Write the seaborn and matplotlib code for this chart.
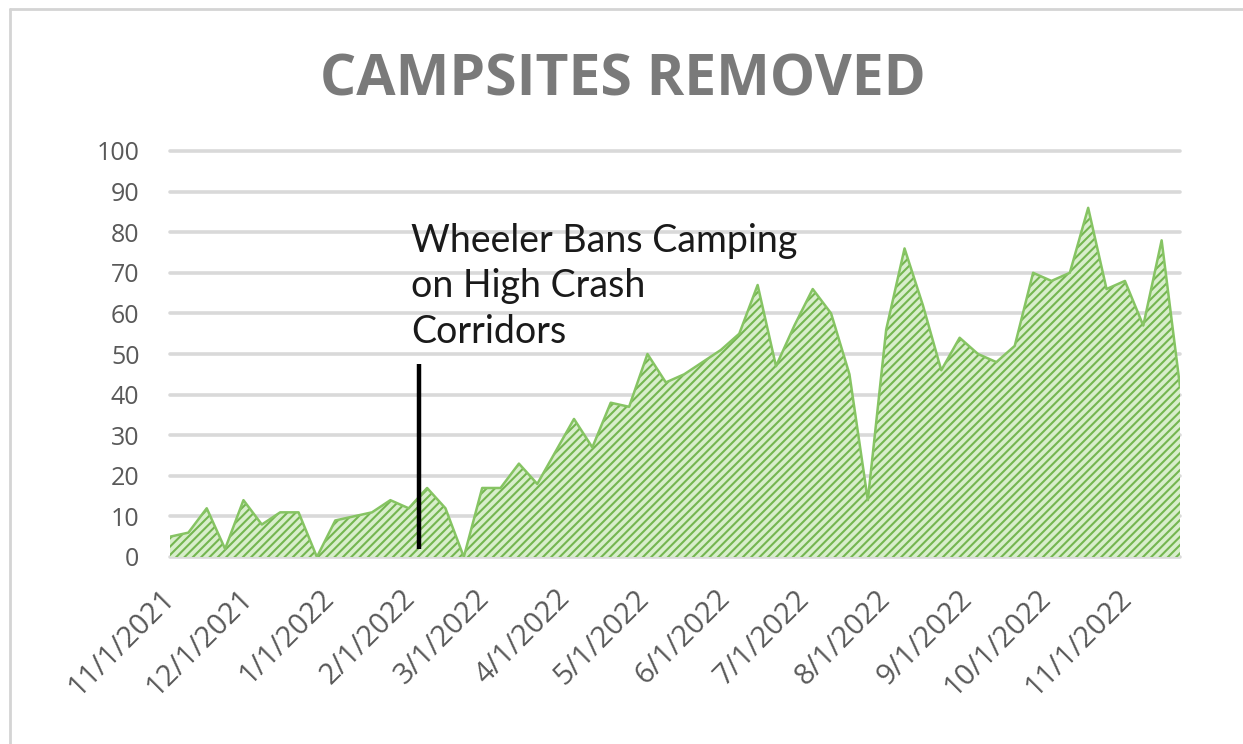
import pandas as pd
import numpy as np
import matplotlib.pyplot as plt
import matplotlib.dates as mdates
import seaborn as sns

# weekly counts
weeks = pd.date_range('2021-11-01', periods=56, freq='7D')
removed = [5, 6, 12, 2, 14, 8, 11, 11, 0, 9,
           10, 11, 14, 12, 17, 12, 0, 17, 17, 23,
           18, 26, 34, 27, 38, 37, 50, 43, 45, 48,
           51, 55, 67, 47, 57, 66, 60, 45, 14, 56,
           76, 62, 46, 54, 50, 48, 52, 70, 68, 70,
           86, 66, 68, 57, 78, 42]

tick_dates = ['2021-11-01', '2021-12-01', '2022-01-01', '2022-02-01', '2022-03-01',
              '2022-04-01', '2022-05-01', '2022-06-01', '2022-07-01', '2022-08-01',
              '2022-09-01', '2022-10-01', '2022-11-01']
tick_labels = ['11/1/2021', '12/1/2021', '1/1/2022', '2/1/2022', '3/1/2022',
               '4/1/2022', '5/1/2022', '6/1/2022', '7/1/2022', '8/1/2022',
               '9/1/2022', '10/1/2022', '11/1/2022']

event_date = '2022-02-04'
event_text = 'Wheeler Bans Camping\non High Crash\nCorridors'

df = pd.DataFrame({'week': weeks, 'removed': removed})

sns.set_theme(style='white')
plt.rcParams['font.family'] = ['Open Sans', 'DejaVu Sans']
plt.rcParams['hatch.linewidth'] = 1.5
plt.rcParams['hatch.color'] = '#74b650'

fig = plt.figure(figsize=(12.43, 7.44), dpi=100)
ax = fig.add_axes([170/1243, 1 - 557/744, 1010/1243, 406/744])

ax.fill_between(df['week'], 0, df['removed'], facecolor='#d8eecb',
                edgecolor='#74b650', hatch='////', linewidth=0, zorder=2)
sns.lineplot(data=df, x='week', y='removed', color='#86c463', linewidth=1.8,
             ax=ax, zorder=3)

ax.set_xlim(df['week'].iloc[0], df['week'].iloc[-1])
ax.set_ylim(0, 100)
ax.set_yticks(range(0, 101, 10))
ax.set_xticks(pd.to_datetime(tick_dates))
ax.set_xticklabels(tick_labels, rotation=45, ha='right', va='center',
                   rotation_mode='anchor')
ax.tick_params(axis='x', labelsize=21, colors='#595959', pad=27, length=0)
ax.tick_params(axis='y', labelsize=18, colors='#595959', pad=22, length=0)
ax.set_xlabel('')
ax.set_ylabel('')

ax.yaxis.grid(True, color='#d9d9d9', linewidth=2.6)
ax.xaxis.grid(False)
for gl in ax.get_ygridlines():
    gl.set_clip_on(False)
ax.set_axisbelow(True)
for s in ax.spines.values():
    s.set_visible(False)

# annotation
ev = pd.Timestamp(event_date)
ax.plot([ev, ev], [2, 47.5], color='black', linewidth=3.2, zorder=4,
        solid_capstyle='butt')
ax.text(pd.Timestamp('2022-02-01'), 82.3, event_text, fontsize=27,
        family=['Lato', 'DejaVu Sans'], fontweight='normal', color='#1a1a1a',
        va='top', ha='left', linespacing=1.33, zorder=5)

fig.text(623/1243, 1 - 80/744, 'CAMPSITES REMOVED', fontsize=41,
         fontweight='bold', color='#7a7a7a', ha='center', va='center')

# spreadsheet / chart border
fig.add_artist(plt.Line2D([10/1243, 10/1243], [0, 1 - 9/744],
                          transform=fig.transFigure, color='#d4d4d4', linewidth=2))
fig.add_artist(plt.Line2D([10/1243, 1], [1 - 9/744, 1 - 9/744],
                          transform=fig.transFigure, color='#d4d4d4', linewidth=2))

fig.savefig('out.png', dpi=100)
